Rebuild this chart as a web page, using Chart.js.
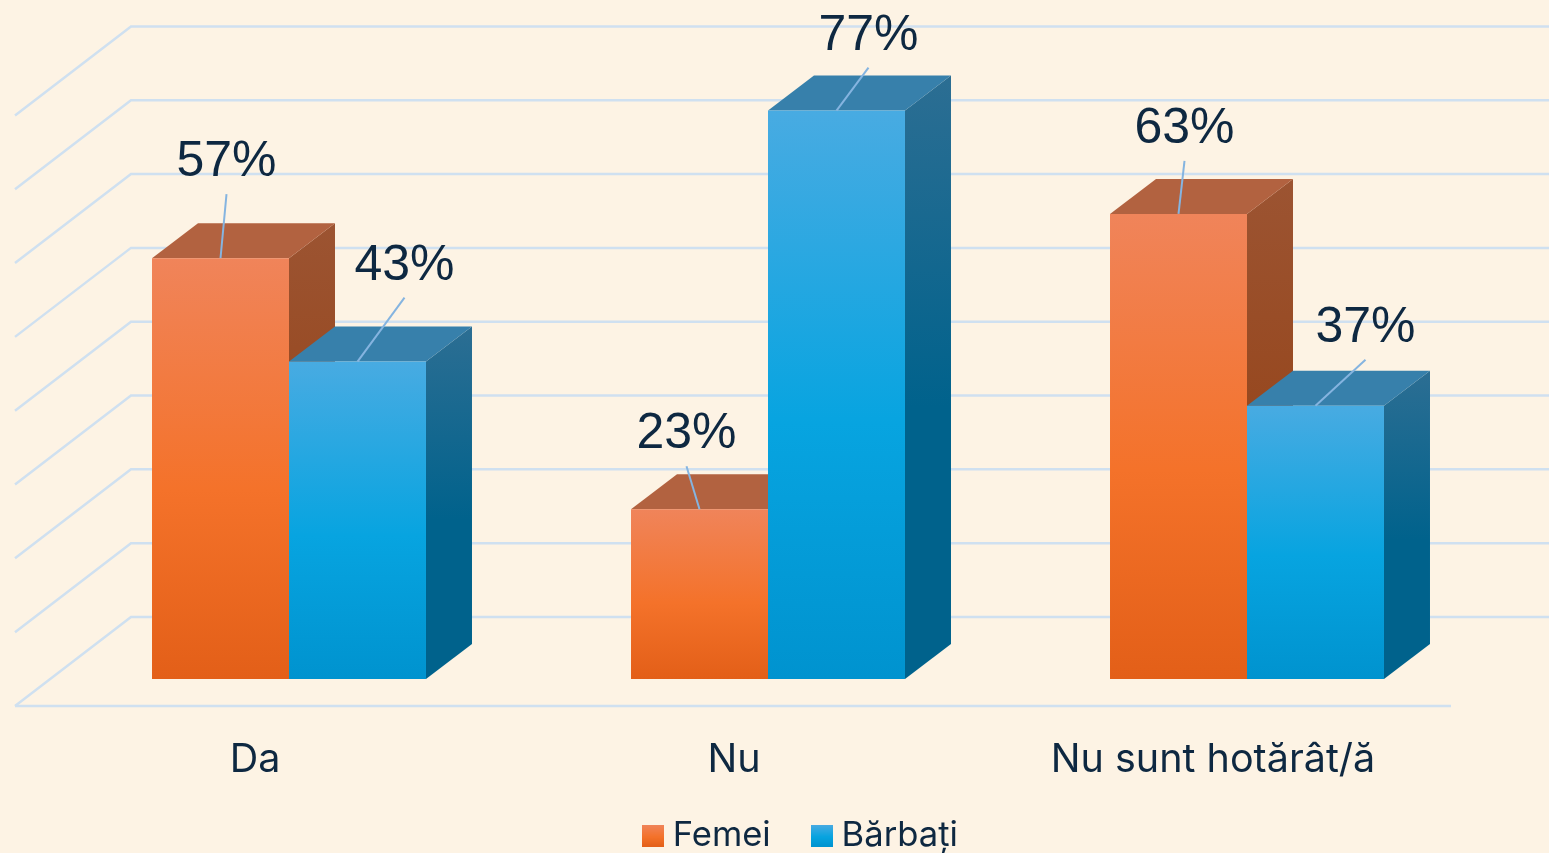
<!DOCTYPE html>
<html>
<head>
<meta charset="utf-8">
<script src="https://cdn.jsdelivr.net/npm/chart.js@4"></script>
<style>
html,body{margin:0;padding:0;background:#fdf3e4;overflow:hidden}
#wrap{position:absolute;left:0;top:0;width:1549px;height:853px}
</style>
</head>
<body>
<div id="wrap"><canvas id="c" width="1549" height="853"></canvas></div>
<script>
const categories = ["Da", "Nu", "Nu sunt hotărât/ă"];
const femei = [57, 23, 63];
const barbati = [43, 77, 37];
const seriesNames = ["Femei", "Bărbați"];
const valueTicks = [0, 10, 20, 30, 40, 50, 60, 70, 80];
const leaderOffsets = [
  [[6, -64], [-13, -43], [6, -53]],
  [[47, -64], [32, -43], [50, -46]]
];

const TEXT = "#0e2841", GRID = "#cfe0f0", LEADER = "#85b4e0";
const DX = 46, DY = -35, FLOOR_DX = 116, FLOOR_DY = -89, BACK_SHIFT = -62, FRONT_SHIFT = 27;
const FRONT = [["#f0845a", "#f4722a", "#e35f18"], ["#48abe2", "#07a4e0", "#0093cf"]];
const TOP = ["#b26240", "#3780ab"];
const SIDE = [["#9c5432", "#96461c"], ["#2c6e93", "#00628c"]];

function frontGradient(ctx, si, top, bottom) {
  const g = ctx.createLinearGradient(0, top, 0, bottom);
  g.addColorStop(0, FRONT[si][0]);
  g.addColorStop(0.55, FRONT[si][1]);
  g.addColorStop(1, FRONT[si][2]);
  return g;
}
function swatch(si) {
  const cv = document.createElement("canvas");
  cv.width = 22; cv.height = 22;
  const x = cv.getContext("2d");
  x.fillStyle = frontGradient(x, si, 0, 22);
  x.fillRect(0, 0, 22, 22);
  return cv;
}
function barFill(si) {
  return function (c) {
    const area = c.chart.chartArea;
    if (!area) return FRONT[si][1];
    const y = c.chart.scales.y;
    return frontGradient(c.chart.ctx, si, y.getPixelForValue(c.raw), y.getPixelForValue(0));
  };
}
function poly(ctx, pts, fill) {
  ctx.beginPath();
  pts.forEach((p, i) => i ? ctx.lineTo(p[0], p[1]) : ctx.moveTo(p[0], p[1]));
  ctx.closePath();
  ctx.fillStyle = fill;
  ctx.fill();
}
const scene = {
  id: "scene",
  afterLayout(chart) {
    const l = chart.legend;
    const shift = 36;
    l.left += shift; l.right += shift;
    l.top = 770.2;
  },
  beforeDatasetsDraw(chart) {
    const ctx = chart.ctx, y = chart.scales.y;
    ctx.save();
    ctx.strokeStyle = GRID; ctx.lineWidth = 2.5; ctx.lineJoin = "miter";
    const backLeft = 131;
    y.ticks.forEach(t => {
      const by = y.getPixelForValue(t.value) + BACK_SHIFT;
      ctx.beginPath();
      ctx.moveTo(backLeft - FLOOR_DX, by - FLOOR_DY);
      ctx.lineTo(backLeft, by);
      ctx.lineTo(chart.width, by);
      ctx.stroke();
    });
    const fy = y.getPixelForValue(0) + FRONT_SHIFT;
    ctx.beginPath();
    ctx.moveTo(backLeft - FLOOR_DX, fy);
    ctx.lineTo(1451, fy);
    ctx.stroke();
    [0, 1].forEach(si => {
      chart.getDatasetMeta(si).data.forEach(b => {
        const l = b.x - b.width / 2, r = b.x + b.width / 2, t = b.y, base = b.base;
        const g = ctx.createLinearGradient(0, t + DY, 0, base);
        g.addColorStop(0, SIDE[si][0]);
        g.addColorStop(0.55, SIDE[si][1]);
        g.addColorStop(1, SIDE[si][1]);
        poly(ctx, [[r, t], [r + DX, t + DY], [r + DX, base + DY], [r, base]], g);
        poly(ctx, [[l, t], [l + DX, t + DY], [r + DX, t + DY], [r, t]], TOP[si]);
      });
    });
    ctx.restore();
  },
  afterDatasetsDraw(chart) {
    const ctx = chart.ctx;
    ctx.save();
    [0, 1].forEach(si => {
      chart.getDatasetMeta(si).data.forEach((b, i) => {
        const o = leaderOffsets[si][i];
        const ex = b.x + o[0], ey = b.y + o[1];
        ctx.strokeStyle = LEADER; ctx.lineWidth = 2;
        ctx.beginPath(); ctx.moveTo(b.x, b.y); ctx.lineTo(ex, ey); ctx.stroke();
        ctx.fillStyle = TEXT;
        ctx.font = '50px "Liberation Sans"';
        ctx.textAlign = "center"; ctx.textBaseline = "alphabetic";
        ctx.fillText(chart.data.datasets[si].data[i] + "%", ex, ey - 18);
      });
    });
    ctx.restore();
  }
};

new Chart(document.getElementById("c"), {
  type: "bar",
  data: {
    labels: categories,
    datasets: [
      { label: seriesNames[0], data: femei, backgroundColor: barFill(0), borderWidth: 0 },
      { label: seriesNames[1], data: barbati, backgroundColor: barFill(1), borderWidth: 0 }
    ]
  },
  options: {
    responsive: false,
    animation: false,
    events: [],
    layout: { padding: { left: 49.5, right: 62.5, top: 88.4, bottom: -39 } },
    datasets: { bar: { categoryPercentage: 0.572, barPercentage: 1 } },
    scales: {
      x: {
        grid: { display: false },
        border: { display: false },
        ticks: {
          color: TEXT, font: { family: "Inter", size: 39.5 },
          padding: 49, labelOffset: -34, maxRotation: 0, autoSkip: false
        },
        afterFit(s) { s.height = 120; }
      },
      y: {
        min: 0, max: 80,
        afterBuildTicks(s) { s.ticks = valueTicks.map(v => ({ value: v })); },
        afterFit(s) { s.width = 0; },
        grid: { display: false },
        border: { display: false },
        ticks: { display: false }
      }
    },
    plugins: {
      tooltip: { enabled: false },
      title: { display: false },
      legend: {
        position: "bottom",
        labels: {
          color: TEXT, font: { family: "Inter", size: 34.6 },
          usePointStyle: true, pointStyleWidth: 5.2, padding: 48.4,
          generateLabels(chart) {
            return Chart.defaults.plugins.legend.labels.generateLabels(chart).map((it, i) => {
              it.pointStyle = swatch(i);
              it.fontColor = TEXT;
              return it;
            });
          }
        }
      }
    }
  },
  plugins: [scene]
});
</script>
</body>
</html>
